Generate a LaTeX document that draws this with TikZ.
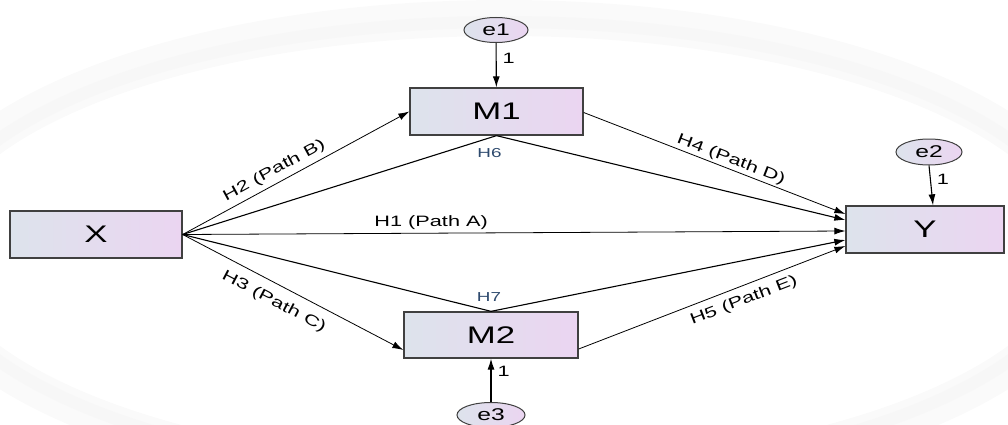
\documentclass[tikz,border=0pt]{standalone}
\usepackage{fontspec}
\setmainfont{Liberation Sans}
\newfontfamily\widefont[FakeStretch=1.45]{Liberation Sans}
\usetikzlibrary{arrows.meta,calc,shapes.geometric}
\definecolor{boxL}{HTML}{DDE3EC}
\definecolor{boxR}{HTML}{EBD5F1}
\definecolor{hlab}{HTML}{2E4A6E}
\begin{document}
\begin{tikzpicture}[x=1pt,y=-1pt,
  var/.style={draw=black!75, line width=1.3pt, left color=boxL, right color=boxR,
    font=\widefont\fontsize{24}{24}\selectfont, inner sep=0pt},
  err/.style={ellipse, draw=black!75, line width=1pt, left color=boxL, right color=boxR,
    minimum width=64pt, minimum height=25pt, inner sep=0pt, font=\widefont\fontsize{17}{17}\selectfont},
  conn/.style={line width=0.8pt, -{Latex[length=11pt,width=7pt]}},
  plain/.style={line width=1.1pt},
  lab/.style={font=\widefont\fontsize{15}{15}\selectfont, sloped, inner sep=1pt},
  hl/.style={font=\widefont\fontsize{13}{13}\selectfont, text=hlab, inner sep=0pt},
  one/.style={font=\widefont\fontsize{15}{15}\selectfont, inner sep=0pt}
]
\useasboundingbox (0,0) rectangle (1008,425);
\begin{scope}
  \clip (0,0) rectangle (1008,425);
  \draw[black!2, line width=36pt] (504,250) ellipse [x radius=585, y radius=232];
  \draw[black!3, line width=12pt] (504,250) ellipse [x radius=578, y radius=228];
\end{scope}

\node[var, minimum width=172pt, minimum height=47pt] (X) at (96,234.5) {X};
\node[var, minimum width=173pt, minimum height=47pt] (M1) at (496.5,111.5) {M1};
\node[var, minimum width=174pt, minimum height=46pt] (M2) at (491,335) {M2};
\node[var, minimum width=158pt, minimum height=47pt] (Y) at (925,229.5) {Y};

\node[err] (e1) at (496,30) {e1};
\node[err, minimum width=66pt, minimum height=26pt] (e2) at (929,152) {e2};
\node[err, minimum width=68pt] (e3) at (491,415) {e3};

\coordinate (y4) at ($(Y.west)+(0,-15.5)$);
\coordinate (y6) at ($(Y.west)+(0,-9.5)$);
\coordinate (y1) at ($(Y.west)+(0,1.5)$);
\coordinate (y7) at ($(Y.west)+(0,10.5)$);
\coordinate (y5) at ($(Y.west)+(0,16.5)$);
\coordinate (yt) at ($(Y.north)+(8,0)$);

% direct paths
\draw[conn] (X.east) -- node[lab, above=4pt, pos=0.43] {H2 (Path B)} (M1.west);
\draw[conn] (X.east) -- node[lab, below=9pt, pos=0.45] {H3 (Path C)} ($(M2.west)+(0,15)$);
\draw[conn] (X.east) -- node[lab, above=2pt, pos=0.375] {H1 (Path A)} (y1);
\draw[conn] ($(M1.east)+(0,1)$) -- node[lab, above=1pt, pos=0.55] {H4 (Path D)} (y4);
\draw[conn] ($(M2.east)+(0,14)$) -- node[lab, below=6pt, pos=0.6] {H5 (Path E)} (y5);

% indirect paths
\draw[plain] (X.east) -- (M1.south);
\draw[plain, -{Latex[length=11pt,width=7pt]}] (M1.south) -- (y6);
\node[hl] (h6) at ($(M1.south)+(-7,17)$) {H6};
\draw[plain] (X.east) -- (M2.north);
\draw[plain, -{Latex[length=11pt,width=7pt]}] (M2.north) -- (y7);
\node[hl] (h7) at ($(M2.north)+(-2,-14)$) {H7};

% error terms
\draw[conn, line width=1.1pt] (e1) -- node[one, pos=0.35, right=6pt] {1} (M1);
\draw[conn, line width=1.1pt] (e2.south) -- node[one, pos=0.35, right=6pt] {1} (yt);
\draw[conn, line width=1.1pt] (e3) -- node[one, pos=0.7, right=6pt] {1} (M2);
\end{tikzpicture}
\end{document}
